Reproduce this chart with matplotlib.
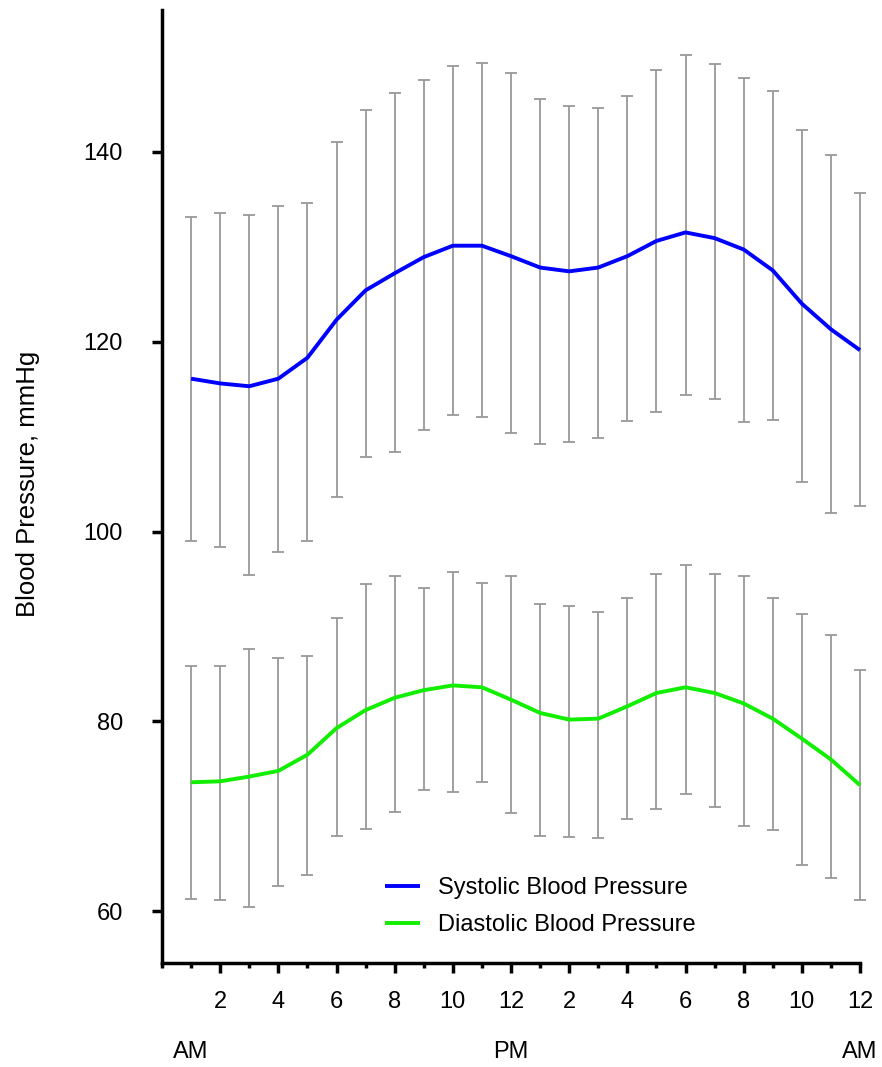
import matplotlib
matplotlib.use("Agg")
import matplotlib.pyplot as plt
from matplotlib.ticker import MultipleLocator, FixedLocator

plt.rcParams['font.family'] = ['Liberation Sans', 'DejaVu Sans']

hours = list(range(1, 25))
systolic = [116.1, 115.6, 115.3, 116.1, 118.3, 122.3, 125.4, 127.2, 128.9, 130.1, 130.1, 129.0,
            127.8, 127.4, 127.8, 129.0, 130.6, 131.5, 130.9, 129.7, 127.5, 124.0, 121.3, 119.1]
systolic_hi = [133.1, 133.5, 133.3, 134.3, 134.6, 141.0, 144.4, 146.2, 147.6, 149.0, 149.3, 148.3,
               145.6, 144.8, 144.6, 145.9, 148.6, 150.2, 149.2, 147.8, 146.4, 142.3, 139.6, 135.6]
systolic_lo = [99.0, 98.4, 95.4, 97.8, 99.0, 103.6, 107.9, 108.4, 110.7, 112.3, 112.1, 110.4,
               109.2, 109.4, 109.8, 111.6, 112.6, 114.4, 114.0, 111.5, 111.7, 105.2, 102.0, 102.7]
diastolic = [73.6, 73.7, 74.2, 74.8, 76.5, 79.3, 81.2, 82.5, 83.3, 83.8, 83.6, 82.3,
             80.9, 80.2, 80.3, 81.6, 83.0, 83.6, 83.0, 81.9, 80.3, 78.2, 76.0, 73.3]
diastolic_hi = [85.8, 85.8, 87.6, 86.7, 86.9, 90.9, 94.5, 95.3, 94.1, 95.7, 94.6, 95.3,
                92.4, 92.2, 91.5, 93.0, 95.5, 96.5, 95.5, 95.3, 93.0, 91.3, 89.1, 85.4]
diastolic_lo = [61.3, 61.2, 60.5, 62.7, 63.8, 67.9, 68.7, 70.5, 72.8, 72.6, 73.6, 70.4,
                67.9, 67.8, 67.7, 69.7, 70.8, 72.4, 71.0, 69.0, 68.6, 64.9, 63.5, 61.2]

xtick_pos = [2, 4, 6, 8, 10, 12, 14, 16, 18, 20, 22, 24]
xtick_labels = ['2', '4', '6', '8', '10', '12', '2', '4', '6', '8', '10', '12']
ampm_pos = [1, 12, 24]
ampm_labels = ['AM', 'PM', 'AM']
yticks = [60, 80, 100, 120, 140]

FS = 17

fig = plt.figure(figsize=(8.82, 10.67), dpi=100)
ax = fig.add_axes([162/882, 1 - 963/1067, (860-162)/882, (963-10)/1067])

err_color = '#999999'
for vals, hi, lo, col, lab in [
    (systolic, systolic_hi, systolic_lo, '#0000ff', 'Systolic Blood Pressure'),
    (diastolic, diastolic_hi, diastolic_lo, '#11ee00', 'Diastolic Blood Pressure'),
]:
    yerr = [[v - l for v, l in zip(vals, lo)], [h - v for v, h in zip(vals, hi)]]
    cont = ax.errorbar(hours, vals, yerr=yerr, fmt='none', ecolor=err_color, elinewidth=1.3,
                       capsize=4.6, capthick=1.3, zorder=1)
    for art in cont.lines[1] + cont.lines[2]:
        art.set_clip_on(False)
    ax.plot(hours, vals, color=col, lw=2.8, label=lab, zorder=3, solid_capstyle='butt',
            clip_on=False)

ax.set_xlim(0, 24)
ax.set_ylim(54.57, 154.92)
for s in ['top', 'right']:
    ax.spines[s].set_visible(False)
for s in ['left', 'bottom']:
    ax.spines[s].set_linewidth(2.5)

ax.set_yticks(yticks)
ax.set_yticklabels([str(v) for v in yticks])
ax.xaxis.set_major_locator(FixedLocator(xtick_pos))
ax.set_xticklabels(xtick_labels)
ax.xaxis.set_minor_locator(MultipleLocator(1))
ax.tick_params(axis='y', which='major', length=7, width=2.5, labelsize=FS, pad=21)
ax.tick_params(axis='x', which='major', length=7, width=2.5, labelsize=FS, pad=13)
ax.tick_params(axis='x', which='minor', length=3.5, width=2.5)

for p, t in zip(ampm_pos, ampm_labels):
    ax.text(p, -0.0934, t, transform=ax.get_xaxis_transform(), ha='center', va='center',
            fontsize=FS)

fig.text(28/882, 1 - 484/1067, 'Blood Pressure, mmHg', rotation=90, ha='center', va='center',
         fontsize=18.5)

ax.legend(loc='lower left', bbox_to_anchor=(0.3195, 0.028), frameon=False, fontsize=FS,
          handlelength=1.48, handletextpad=0.76, labelspacing=0.65, borderpad=0,
          borderaxespad=0)

fig.savefig('out.png', dpi=100)
